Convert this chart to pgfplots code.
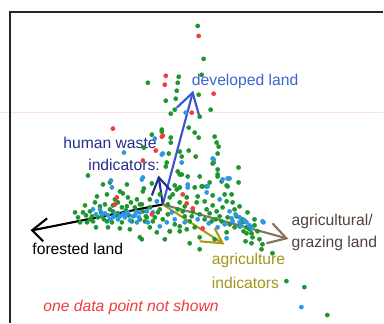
\documentclass[border=0pt]{standalone}
\usepackage{pgfplots}
\pgfplotsset{compat=1.18}
\usepackage{fontspec}
\setmainfont{Liberation Sans}
\definecolor{dgreen}{RGB}{30,150,45}
\definecolor{dblue}{RGB}{45,150,230}
\definecolor{dred}{RGB}{240,60,60}
\definecolor{devblue}{RGB}{55,85,210}
\definecolor{hwnavy}{RGB}{35,45,140}
\definecolor{agolive}{RGB}{175,152,20}
\definecolor{agbrown}{RGB}{135,115,98}
\definecolor{devtext}{RGB}{60,100,210}
\definecolor{agtext}{RGB}{80,66,58}
\definecolor{agitext}{RGB}{165,148,25}
\begin{document}
\begin{tikzpicture}
\begin{axis}[width=288pt, height=243pt, scale only axis,
  xmin=0, xmax=384, ymin=0, ymax=324, y dir=reverse,
  axis line style={draw=none}, ticks=none, clip=false]
% scan artefact line
\addplot[red!12!white, line width=0.4pt] coordinates {(0,113) (384,113)};
% frame
\addplot[black!85, line width=1.3pt] coordinates {(10,324) (10,12) (384,12)};
% green points
\addplot[only marks, mark=*, mark size=1.55pt, color=dgreen] coordinates {
(198,26) (204,59) (202,75) (148,83) (179,77) (178,83) (177,91) (199,95) (176,99) (166,101)
(211,110) (175,110) (171,114) (200,117) (189,128) (195,133) (199,138) (215,137) (217,143) (219,147)
(218,154) (162,130) (171,138) (171,143) (180,152) (189,151) (196,157) (152,135) (144,148) (169,154)
(182,157) (214,163) (166,167) (178,172) (180,175) (188,177) (218,170) (218,175) (239,168) (239,183)
(210,183) (203,187) (195,188) (180,188) (175,186) (227,186) (88,176) (103,185) (127,185) (213,164)
(218,177) (182,175) (200,177) (207,187) (255,220) (247,234) (252,244) (263,245) (273,254) (200,250)
(190,244) (142,240) (170,232) (180,232) (162,132) (110,183) (167,163)
(144,189) (97,197) (107,195) (123,194) (128,198) (137,200) (75,213) (83,213) (90,212) (92,217)
(98,218) (100,207) (105,205) (110,210) (113,212) (118,203) (122,208) (127,207) (131,203) (135,208)
(140,205) (143,212) (80,223) (87,223) (93,222) (107,222) (112,223) (122,223) (132,222) (140,220)
(147,218) (108,228) (120,229) (140,238) (102,217)
(143,192) (142,205) (146,217) (153,222) (158,213) (163,220) (170,232) (175,225) (180,227) (185,217)
(190,222) (195,228) (193,212) (197,203) (198,197) (202,187) (222,182) (228,187) (225,195) (227,202)
(233,203) (240,207) (223,208) (217,212) (220,217) (212,222) (228,218) (237,217) (243,220) (248,213)
(207,210) (205,202) (187,198) (180,203) (177,190) (187,230) (157,233) (150,228) (227,233) (240,227)
(250,230) (247,228) (246,242) (253,238) (260,240) (262,250) (243,223) (287,282) (305,288) (328,316)
(85,206) (95,203) (115,200) (150,200) (160,195) (168,205) (170,198) (213,196) (232,195) (235,210)
(255,226) (258,232) (118,214) (96,228) (130,230) (165,240) (200,238) (215,240) (152,184) (120,192)
(78,218) (86,216) (101,213) (104,220) (116,216) (126,211) (136,212) (145,222) (155,218) (160,210)
(168,215) (178,210) (183,212) (192,217) (200,215) (205,220) (210,214) (216,220) (222,222) (230,225)
(235,228) (244,232) (252,234) (173,195) (185,207) (213,206) (150,208) (129,216) (90,220) (113,206)
};
% blue points
\addplot[only marks, mark=*, mark size=1.55pt, color=dblue] coordinates {
(186,113) (124,153) (162,155) (213,159) (155,139) (163,154) (182,163) (214,160) (223,180) (230,179)
(188,185) (208,187) (143,178) (228,179) (263,222) (227,239) (111,181) (142,180) (112,188) (128,213)
(123,215) (133,217) (137,213) (140,213) (105,214) (100,210) (130,221) (137,223) (118,220) (113,218)
(147,212) (93,210) (157,202) (153,213) (148,223) (172,213) (175,220) (188,188) (207,193) (220,200)
(230,212) (233,222) (240,223) (247,223) (185,223) (160,227) (167,223) (218,228) (264,223) (241,227)
(302,308) (115,214) (125,218) (108,216) (96,215) (135,216) (240,218) (236,215) (250,226) (245,221)
(120,217) (110,220) (126,214) (102,215) (139,218) (225,225) (232,219) (252,229) (198,220) (209,224)
};
% red points
\addplot[only marks, mark=*, mark size=1.55pt, color=dred] coordinates {
(199,36) (166,76) (165,85) (214,94) (192,113) (113,129) (162,137) (156,151) (143,161) (163,136)
(117,198) (115,205) (183,195) (187,204) (193,209) (152,215) (203,229)
};
% arrows: shafts and open heads
\addplot[black, line width=1.6pt] coordinates {(163,205) (32,231)};
\addplot[black, line width=1.6pt] coordinates {(47,219) (32,231) (43,242)};
\addplot[devblue, line width=1.6pt] coordinates {(163,205) (193,93)};
\addplot[devblue, line width=1.6pt] coordinates {(177,108) (193,93) (200,118)};
\addplot[hwnavy, line width=1.6pt] coordinates {(163,205) (159,178)};
\addplot[hwnavy, line width=1.6pt] coordinates {(152,196) (159,178) (171,191)};
\addplot[agolive, line width=1.6pt] coordinates {(163,205) (223,244)};
\addplot[agolive, line width=1.6pt] coordinates {(200,242) (223,244) (215,229)};
\addplot[agbrown, line width=1.6pt] coordinates {(163,205) (287,239)};
\addplot[agbrown, line width=1.6pt] coordinates {(273,224) (287,239) (267,244)};
% labels
\node[anchor=west, inner sep=0pt, text=devtext, font=\fontsize{11.8}{13}\selectfont] at (axis cs:192,82) {developed land};
\node[anchor=west, inner sep=0pt, text=hwnavy, font=\fontsize{11.8}{13}\selectfont] at (axis cs:63,143) {human waste};
\node[anchor=west, inner sep=0pt, text=hwnavy, font=\fontsize{11.8}{13}\selectfont] at (axis cs:88,165) {indicators:};
\node[anchor=west, inner sep=0pt, text=black, font=\fontsize{11.8}{13}\selectfont] at (axis cs:32,250) {forested land};
\node[anchor=west, inner sep=0pt, text=agtext, font=\fontsize{11.8}{13}\selectfont] at (axis cs:292,222) {agricultural/};
\node[anchor=west, inner sep=0pt, text=agtext, font=\fontsize{11.8}{13}\selectfont] at (axis cs:292,244) {grazing land};
\node[anchor=west, inner sep=0pt, text=agitext, font=\fontsize{11.8}{13}\selectfont] at (axis cs:212,261) {agriculture};
\node[anchor=west, inner sep=0pt, text=agitext, font=\fontsize{11.8}{13}\selectfont] at (axis cs:212,284) {indicators};
\node[anchor=west, inner sep=0pt, text=dred, font=\fontsize{11.8}{13}\selectfont\itshape] at (axis cs:43,308) {one data point not shown};
\end{axis}
\end{tikzpicture}
\end{document}
